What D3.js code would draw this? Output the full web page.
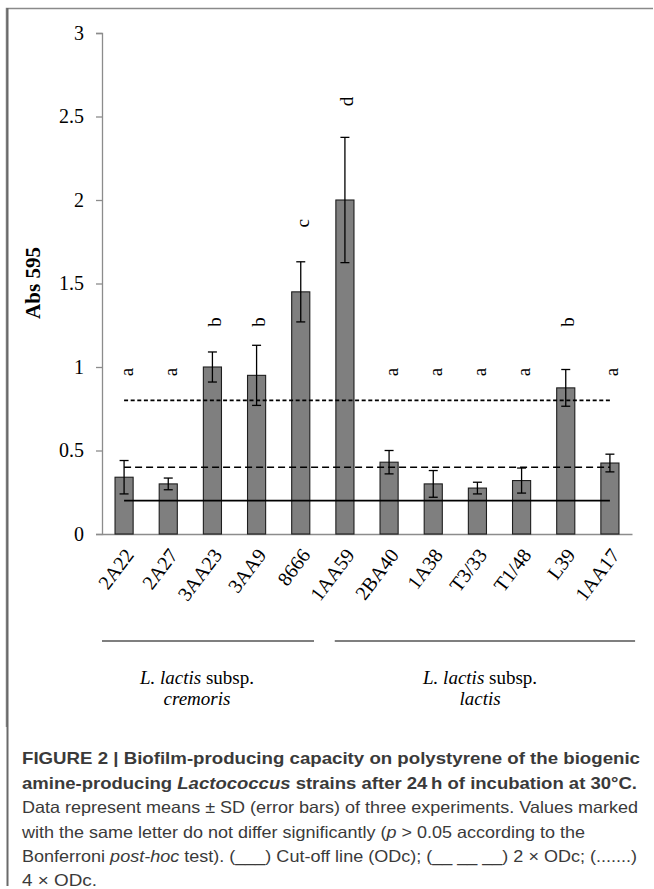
<!DOCTYPE html>
<html lang="en">
<head>
    <meta charset="UTF-8">
    <title>Biofilm-producing capacity</title>
    <script src="https://d3js.org/d3.v7.min.js"></script>
    <style>
        body { margin: 0; background: #fff; }
        svg { display: block; }
        .serif { font-family: "Liberation Serif", "Times New Roman", serif; }
        .caption { font-family: "Liberation Sans", Arial, sans-serif; fill: #3a3a3a; }
    </style>
</head>
<body>
<div id="chart"></div>
<script>
    // Data
    const strains = ["2A22", "2A27", "3AA23", "3AA9", "8666", "1AA59", "2BA40", "1A38", "T3/33", "T1/48", "L39", "1AA17"];
    const means = [0.34, 0.30, 1.00, 0.95, 1.45, 2.00, 0.43, 0.30, 0.275, 0.32, 0.875, 0.425];
    const sds = [0.10, 0.035, 0.09, 0.18, 0.18, 0.375, 0.07, 0.08, 0.035, 0.075, 0.11, 0.053];
    const letters = ["a", "a", "b", "b", "c", "d", "a", "a", "a", "a", "b", "a"];
    const letterLevels = [0.97, 0.97, 1.27, 1.27, 1.86, 2.59, 0.97, 0.97, 0.97, 0.97, 1.27, 0.97];
    const yTicks = [0, 0.5, 1, 1.5, 2, 2.5, 3];

    // cut-off line (ODc), 2 x ODc, 4 x ODc
    const refValues = [0.2, 0.4, 0.8];
    const refDash = [null, "7,4", "4,2.6"];

    // strain groups (spans in band units along the x axis)
    const groupSubsp = ["cremoris", "lactis"];
    const groupSpans = [[0, 4.8], [5.27, 12.07]];
    const groupLabelPos = [2.15, 8.56];

    const W = 654, H = 889;
    const margin = { top: 33, left: 102, right: 22, bottom: 355 };
    const width = W - margin.left - margin.right;
    const height = H - margin.top - margin.bottom;

    const svg = d3.select("#chart").append("svg")
        .attr("width", W)
        .attr("height", H);

    // figure frame + caption bar
    svg.append("path")
        .attr("d", "M6.5,727 V8.5 H653")
        .attr("fill", "none")
        .attr("stroke", "#8a8a8a")
        .attr("stroke-width", 1.5);
    svg.append("line")
        .attr("x1", 7.5).attr("x2", 7.5)
        .attr("y1", 8).attr("y2", 886)
        .attr("stroke", "#6a6a6a")
        .attr("stroke-width", 2);

    const g = svg.append("g")
        .attr("transform", `translate(${margin.left},${margin.top})`);

    const x = d3.scaleBand()
        .domain(strains)
        .range([0, width])
        .paddingInner(0.59)
        .paddingOuter(0.295);

    const y = d3.scaleLinear()
        .domain([0, 3])
        .range([height, 0]);

    // y axis
    const yAxis = g.append("g")
        .call(d3.axisLeft(y).tickValues(yTicks).tickSize(6).tickPadding(12).tickFormat(d3.format("")));
    yAxis.attr("font-family", "Liberation Serif, serif").attr("font-size", 20);
    yAxis.select(".domain").attr("stroke", "#8c8c8c").attr("stroke-width", 1.3);
    yAxis.selectAll(".tick line").attr("stroke", "#8c8c8c").attr("stroke-width", 1.3);
    yAxis.selectAll(".tick text").attr("fill", "#000");

    // x axis (no ticks), labels slanted
    const xAxis = g.append("g")
        .attr("transform", `translate(0,${height})`)
        .call(d3.axisBottom(x).tickSize(0).tickPadding(0));
    xAxis.attr("font-family", "Liberation Serif, serif").attr("font-size", 20);
    xAxis.select(".domain").attr("stroke", "#8c8c8c").attr("stroke-width", 1.3);
    xAxis.selectAll(".tick text")
        .attr("fill", "#000")
        .attr("text-anchor", "end")
        .attr("y", 0)
        .attr("dy", "0.35em")
        .attr("transform", "translate(5,17) rotate(-53)");

    // bars
    g.selectAll("rect.bar")
        .data(strains)
        .join("rect")
        .attr("class", "bar")
        .attr("x", d => x(d))
        .attr("width", x.bandwidth())
        .attr("y", (d, i) => y(means[i]))
        .attr("height", (d, i) => y(0) - y(means[i]))
        .attr("fill", "#7f7f7f")
        .attr("stroke", "#1e1e1e")
        .attr("stroke-width", 1.1);

    // reference lines from first to last strain centre
    const x0 = x(strains[0]) + x.bandwidth() / 2;
    const x1 = x(strains[strains.length - 1]) + x.bandwidth() / 2;
    refValues.forEach((v, i) => {
        g.append("line")
            .attr("x1", x0).attr("x2", x1)
            .attr("y1", y(v)).attr("y2", y(v))
            .attr("stroke", "#000")
            .attr("stroke-width", 1.6)
            .attr("stroke-dasharray", refDash[i]);
    });

    // error bars
    const cap = 4.5;
    const err = g.selectAll("g.err")
        .data(strains)
        .join("g")
        .attr("class", "err");
    err.append("line")
        .attr("x1", d => x(d) + x.bandwidth() / 2)
        .attr("x2", d => x(d) + x.bandwidth() / 2)
        .attr("y1", (d, i) => y(means[i] - sds[i]))
        .attr("y2", (d, i) => y(means[i] + sds[i]));
    err.append("line")
        .attr("x1", d => x(d) + x.bandwidth() / 2 - cap)
        .attr("x2", d => x(d) + x.bandwidth() / 2 + cap)
        .attr("y1", (d, i) => y(means[i] + sds[i]))
        .attr("y2", (d, i) => y(means[i] + sds[i]));
    err.append("line")
        .attr("x1", d => x(d) + x.bandwidth() / 2 - cap)
        .attr("x2", d => x(d) + x.bandwidth() / 2 + cap)
        .attr("y1", (d, i) => y(means[i] - sds[i]))
        .attr("y2", (d, i) => y(means[i] - sds[i]));
    err.selectAll("line")
        .attr("stroke", "#000")
        .attr("stroke-width", 1.3);

    // significance letters, rotated
    g.selectAll("text.letter")
        .data(strains)
        .join("text")
        .attr("class", "letter serif")
        .attr("font-size", 19)
        .attr("text-anchor", "middle")
        .attr("dominant-baseline", "central")
        .attr("transform", (d, i) => `translate(${x(d) + x.bandwidth() / 2 + 2},${y(letterLevels[i])}) rotate(-90)`)
        .text((d, i) => letters[i]);

    // y axis title
    svg.append("text")
        .attr("class", "serif")
        .attr("font-size", 21)
        .attr("font-weight", "bold")
        .attr("text-anchor", "middle")
        .attr("transform", "translate(40,283) rotate(-90)")
        .text("Abs 595");

    // group brackets
    const step = x.step();
    groupSpans.forEach((s, i) => {
        svg.append("line")
            .attr("x1", margin.left + s[0] * step)
            .attr("x2", margin.left + s[1] * step)
            .attr("y1", 641).attr("y2", 641)
            .attr("stroke", "#000")
            .attr("stroke-width", 1.2);
        const t = svg.append("text")
            .attr("class", "serif")
            .attr("font-size", 19)
            .attr("text-anchor", "middle")
            .attr("x", margin.left + groupLabelPos[i] * step)
            .attr("y", 684);
        t.append("tspan").attr("font-style", "italic").text("L. lactis");
        t.append("tspan").text(" subsp.");
        svg.append("text")
            .attr("class", "serif")
            .attr("font-size", 19)
            .attr("font-style", "italic")
            .attr("text-anchor", "middle")
            .attr("x", margin.left + groupLabelPos[i] * step)
            .attr("y", 705)
            .text(groupSubsp[i]);
    });

    // caption
    const capLines = [
        { bold: true, len: 618, parts: [["FIGURE 2 | Biofilm-producing capacity on polystyrene of the biogenic", false]] },
        { bold: true, len: 615, parts: [["amine-producing ", false], ["Lactococcus", true], [" strains after 24\u2009h of incubation at 30\u00b0C.", false]] },
        { bold: false, len: 616, parts: [["Data represent means \u00b1 SD (error bars) of three experiments. Values marked", false]] },
        { bold: false, len: 563, parts: [["with the same letter do not differ significantly (", false], ["p", true], [" > 0.05 according to the", false]] },
        { bold: false, len: 615, parts: [["Bonferroni ", false], ["post-hoc", true], [" test). (___) Cut-off line (ODc); (__ __ __) 2 \u00d7 ODc; (.......)", false]] },
        { bold: false, len: 75, parts: [["4 \u00d7 ODc.", false]] }
    ];
    const capY = [764, 789, 813, 838, 862, 886];
    capLines.forEach((ln, i) => {
        const t = svg.append("text")
            .attr("class", "caption")
            .attr("x", 22)
            .attr("y", capY[i])
            .attr("font-size", 16.5)
            .attr("font-weight", ln.bold ? "bold" : "normal")
            .attr("fill", ln.bold ? "#2b2b2b" : "#3a3a3a");
        if (ln.len) t.attr("textLength", ln.len).attr("lengthAdjust", "spacingAndGlyphs");
        ln.parts.forEach(p => {
            t.append("tspan").attr("font-style", p[1] ? "italic" : "normal").text(p[0]);
        });
    });
</script>
</body>
</html>
